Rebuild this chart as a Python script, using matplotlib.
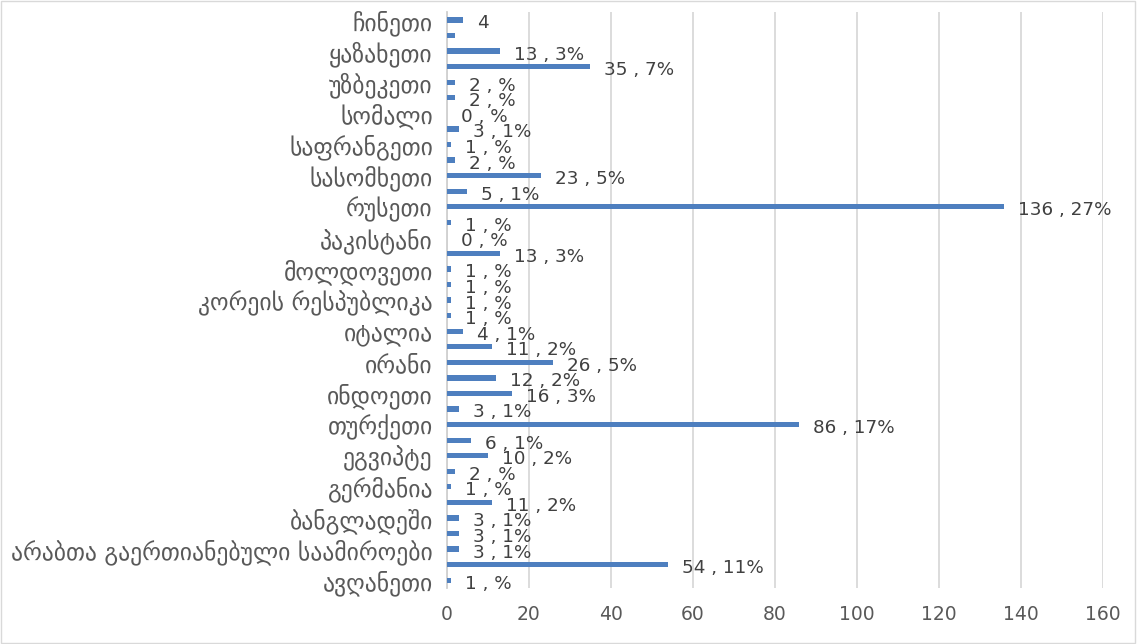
import matplotlib
matplotlib.use("Agg")
import matplotlib.pyplot as plt
from matplotlib.patches import Rectangle

# categories bottom -> top
categories = [
    "ავღანეთი", "აზერბაიჯანი", "არაბთა გაერთიანებული საამიროები", "აშშ",
    "ბანგლადეში", "ბელარუსი", "გერმანია", "დიდი ბრიტანეთი", "ეგვიპტე",
    "ესპანეთი", "თურქეთი", "თურქმენეთი", "ინდოეთი", "ინდონეზია", "ირანი",
    "ისრაელი", "იტალია", "კანადა", "კორეის რესპუბლიკა", "ლიბანი",
    "მოლდოვეთი", "ნიგერია", "პაკისტანი", "პოლონეთი", "რუსეთი",
    "საბერძნეთი", "სასომხეთი", "საუდის არაბეთი", "საფრანგეთი", "სირია",
    "სომალი", "ტაჯიკეთი", "უზბეკეთი", "უკრაინა", "ყაზახეთი", "ყირგიზეთი",
    "ჩინეთი",
]
values = [1, 54, 3, 3, 3, 11, 1, 2, 10, 6, 86, 3, 16, 12, 26, 11, 4, 1, 1, 1,
          1, 13, 0, 1, 136, 5, 23, 2, 1, 3, 0, 2, 2, 35, 13, 2, 4]
value_labels = ["1 , %", "54 , 11%", "3 , 1%", "3 , 1%", "3 , 1%", "11 , 2%",
                "1 , %", "2 , %", "10 , 2%", "6 , 1%", "86 , 17%", "3 , 1%",
                "16 , 3%", "12 , 2%", "26 , 5%", "11 , 2%", "4 , 1%", "1 , %",
                "1 , %", "1 , %", "1 , %", "13 , 3%", "0 , %", "1 , %",
                "136 , 27%", "5 , 1%", "23 , 5%", "2 , %", "1 , %", "3 , 1%",
                "0 , %", "2 , %", "2 , %", "35 , 7%", "13 , 3%", "", "4"]
x_ticks = [0, 20, 40, 60, 80, 100, 120, 140, 160]

TXT = "#595959"
fig = plt.figure(figsize=(11.37, 6.44), dpi=100)
fig.patches.append(Rectangle((0.001, 0.002), 0.997, 0.996, transform=fig.transFigure,
                             fill=False, edgecolor="#d9d9d9", linewidth=1.0))
ax = fig.add_axes([0.393, 0.087, 0.577, 0.894])

pos = list(range(len(categories)))
ax.barh(pos, values, height=0.34, color="#4e7fbf", zorder=3)
for p, v, lab in zip(pos, values, value_labels):
    if lab:
        ax.annotate(lab, (v, p), xytext=(10, -2.5), textcoords="offset points",
                    ha="left", va="center", fontsize=13.2, color="#404040",
                    family="DejaVu Sans", zorder=4)

ax.set_xlim(0, 160)
ax.set_ylim(-0.5, len(categories) - 0.5)
ax.set_xticks(x_ticks)
ax.set_xticklabels([str(t) for t in x_ticks], fontsize=13.5, color=TXT)
ax.set_yticks(pos[::2])
ax.set_yticklabels(categories[::2], fontsize=17, color=TXT, family="DejaVu Sans")
ax.tick_params(axis="both", length=0)
ax.tick_params(axis="y", pad=10)
ax.tick_params(axis="x", pad=12)
ax.grid(axis="x", color="#d9d9d9", linewidth=1.3, zorder=0)
for s in ["top", "right", "bottom"]:
    ax.spines[s].set_visible(False)
ax.spines["left"].set_color("#d0d0d0")
ax.spines["left"].set_linewidth(1.3)

fig.savefig("out.png", dpi=100)
